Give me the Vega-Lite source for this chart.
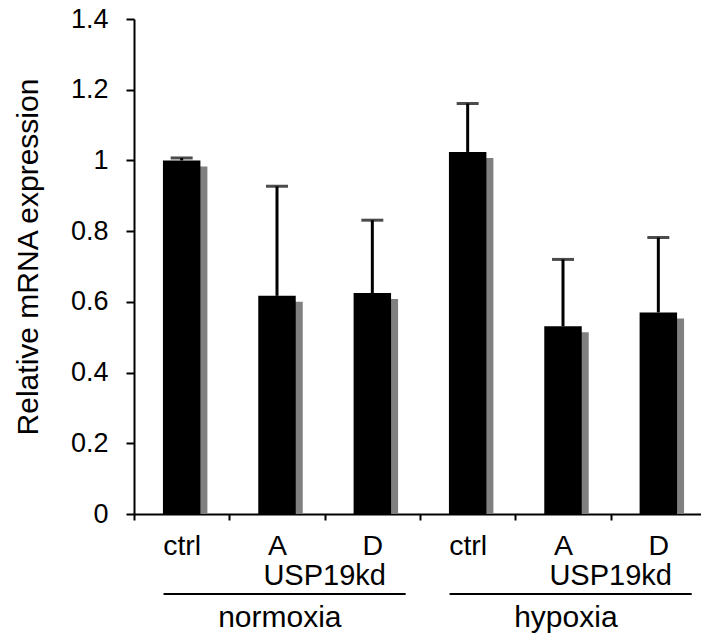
{
  "$schema": "https://vega.github.io/schema/vega-lite/v6.json",
  "width": 567,
  "height": 495,
  "autosize": {"type": "none"},
  "padding": {"left": 134, "top": 19, "right": 0, "bottom": 124},
  "config": {"view": {"stroke": null}, "font": "Liberation Sans", "axis": {"grid": false}},
  "datasets": {
    "bars": [
      {"id": "n_ctrl", "condition": "normoxia", "value": 1.0, "upper": 1.007},
      {"id": "n_A", "condition": "normoxia", "value": 0.617, "upper": 0.927},
      {"id": "n_D", "condition": "normoxia", "value": 0.625, "upper": 0.831},
      {"id": "h_ctrl", "condition": "hypoxia", "value": 1.024, "upper": 1.161},
      {"id": "h_A", "condition": "hypoxia", "value": 0.531, "upper": 0.72},
      {"id": "h_D", "condition": "hypoxia", "value": 0.57, "upper": 0.782}
    ],
    "groups": [
      {"condition": "normoxia", "sub": "USP19kd", "first": "n_ctrl", "mid": "n_A", "last": "n_D"},
      {"condition": "hypoxia", "sub": "USP19kd", "first": "h_ctrl", "mid": "h_A", "last": "h_D"}
    ]
  },
  "layer": [
    {
      "data": {"name": "bars"},
      "mark": {"type": "bar", "color": "#808080", "xOffset": 7, "yOffset": 6, "width": {"band": 0.393}, "clip": true},
      "encoding": {
        "x": {
          "field": "id", "type": "nominal",
          "scale": {"domain": ["n_ctrl", "n_A", "n_D", "h_ctrl", "h_A", "h_D"], "range": [0, 572], "paddingInner": 0, "paddingOuter": 0},
          "axis": {
            "title": null, "labelExpr": "slice(datum.label, 2)", "tickBand": "extent",
            "tickSize": 6, "tickWidth": 2, "tickColor": "black", "domainColor": "black", "domainWidth": 2,
            "labelFontSize": 28.5, "labelColor": "black", "labelPadding": 34, "labelBaseline": "alphabetic", "labelAngle": 0
          }
        },
        "y": {
          "field": "value", "type": "quantitative",
          "scale": {"domain": [0, 1.4]},
          "axis": {
            "title": "Relative mRNA expression", "values": [0, 0.2, 0.4, 0.6, 0.8, 1, 1.2, 1.4], "format": "~g",
            "tickSize": 8, "tickWidth": 2, "tickColor": "black", "domainColor": "black", "domainWidth": 2,
            "labelFontSize": 27, "labelColor": "black", "labelPadding": 18,
            "titleFontSize": 30, "titleFontWeight": "normal", "titleColor": "black",
            "titleX": -97, "titleY": 237.5, "titleAngle": -90, "titleAlign": "center", "titleBaseline": "alphabetic"
          }
        }
      }
    },
    {
      "data": {"name": "bars"},
      "mark": {"type": "bar", "color": "black", "width": {"band": 0.393}},
      "encoding": {
        "x": {"field": "id", "type": "nominal"},
        "y": {"field": "value", "type": "quantitative"}
      }
    },
    {
      "data": {"name": "bars"},
      "mark": {"type": "rule", "color": "black", "strokeWidth": 3},
      "encoding": {
        "x": {"field": "id", "type": "nominal"},
        "y": {"field": "value", "type": "quantitative"},
        "y2": {"field": "upper"}
      }
    },
    {
      "data": {"name": "bars"},
      "mark": {"type": "tick", "color": "black", "size": 22, "thickness": 3, "orient": "horizontal"},
      "encoding": {
        "x": {"field": "id", "type": "nominal"},
        "y": {"field": "upper", "type": "quantitative"}
      }
    },
    {
      "data": {"name": "groups"},
      "mark": {"type": "text", "fontSize": 29, "color": "black", "align": "center", "baseline": "alphabetic"},
      "encoding": {
        "x": {"field": "mid", "type": "nominal", "bandPosition": 1},
        "y": {"datum": -0.2008, "type": "quantitative"},
        "text": {"field": "sub"}
      }
    },
    {
      "data": {"name": "groups"},
      "mark": {"type": "rule", "color": "black", "strokeWidth": 2},
      "encoding": {
        "x": {"field": "first", "type": "nominal", "bandPosition": 0.31},
        "x2": {"field": "last", "bandPosition": 0.85},
        "y": {"datum": -0.2263, "type": "quantitative"}
      }
    },
    {
      "data": {"name": "groups"},
      "mark": {"type": "text", "fontSize": 30, "color": "black", "align": "center", "baseline": "alphabetic"},
      "encoding": {
        "x": {"field": "mid", "type": "nominal", "bandPosition": 0.53},
        "y": {"datum": -0.3196, "type": "quantitative"},
        "text": {"field": "condition"}
      }
    }
  ]
}
